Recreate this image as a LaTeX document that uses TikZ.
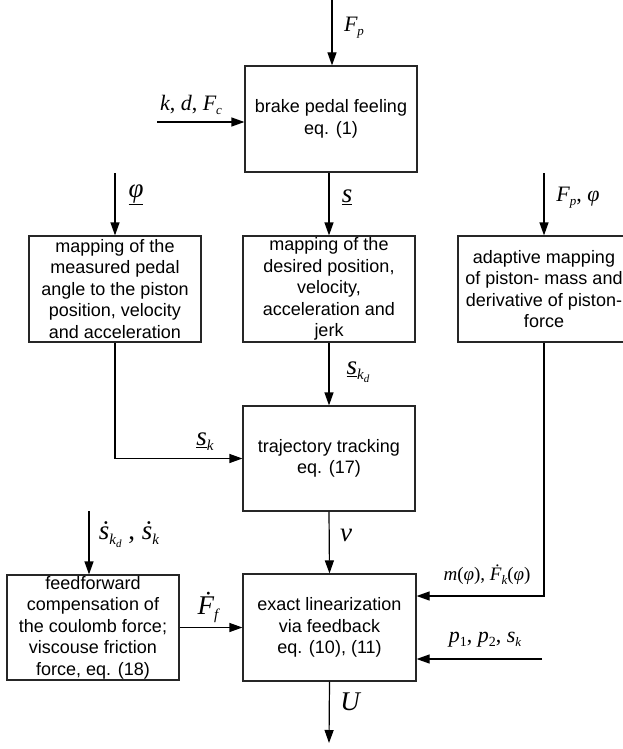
\documentclass[tikz,border=0pt]{standalone}
\usepackage{fontspec}
\setmainfont{Liberation Sans}
\newfontfamily\tms{Liberation Serif}
\usetikzlibrary{arrows.meta}

% italic serif symbols and lowered subscripts
\newcommand{\mi}[1]{{\tms\itshape #1}}
\newcommand{\sbs}[1]{\raisebox{-4pt}{\fontsize{13}{13}\selectfont\tms\itshape #1}}
\newcommand{\sbl}[1]{\raisebox{-5pt}{\fontsize{15}{15}\selectfont\tms\itshape #1}}
\newcommand{\ssbs}[1]{\raisebox{-3pt}{\fontsize{11}{11}\selectfont\tms\itshape #1}}
\newcommand{\sbn}[1]{\raisebox{-4pt}{\fontsize{14}{14}\selectfont\tms #1}}

\begin{document}
\begin{tikzpicture}[x=1pt,y=-1pt,
  block/.style={draw=black!85,line width=1.2pt,minimum width=172pt,minimum height=106pt,
    inner sep=0pt,align=center,font=\fontsize{18}{21.5}\selectfont},
  flow/.style={line width=1.2pt,-{Triangle[length=13pt,width=9pt]}},
  sym/.style={inner sep=0pt,font=\fontsize{22}{22}\selectfont\tms},
  symlg/.style={inner sep=0pt,font=\fontsize{27}{27}\selectfont\tms},
  symsm/.style={inner sep=0pt,font=\fontsize{19}{19}\selectfont\tms}]
\clip (0,0) rectangle (623,749);
\fill[white] (0,0) rectangle (623,749);

% blocks
\node[block] (brake) at (331,119) {brake pedal feeling\\eq. (1)};
\node[block] (mapL) at (115,289) {mapping of the\\measured pedal\\angle to the piston\\position, velocity\\and acceleration};
\node[block] (mapM) at (329,289) {mapping of the\\desired position,\\velocity,\\acceleration and\\jerk};
\node[block] (adapt) at (544,289) {adaptive mapping\\of piston- mass and\\derivative of piston-\\force};
\node[block,minimum height=105pt] (traj) at (329,458.5) {trajectory tracking\\eq. (17)};
\node[block,minimum height=105pt] (ff) at (93,627.5) {feedforward\\compensation of\\the coulomb force;\\viscouse friction\\force, eq. (18)};
\node[block,minimum width=173pt,minimum height=107pt] (lin) at (329.5,627.5) {exact linearization\\via feedback\\eq. (10), (11)};

% free ends of the inputs and the output
\coordinate (fpin) at (332,0);
\coordinate (kin) at (157,122);
\coordinate (phin) at (115,173);
\coordinate (adin) at (544,173);
\coordinate (sdin) at (89,511);
\coordinate (mrow) at (0,596);
\coordinate (pin) at (542,659);
\coordinate (uout) at (329,743);

% connectors
\draw[flow] (fpin) -- (fpin |- brake.north);
\draw[flow] (kin) -- (kin -| brake.west);
\draw[flow] (mapM.north |- brake.south) -- (mapM.north);
\draw[flow] (phin) -- (mapL.north);
\draw[flow] (adin) -- (adapt.north);
\draw[flow] (mapM.south) -- (traj.north);
\draw[flow] (mapL.south) |- (traj.west);
\draw[flow] (sdin) -- (sdin |- ff.north);
\draw[flow] (traj.south) -- (lin.north);
\draw[flow] (ff.east) -- (ff.east -| lin.west);
\draw[flow] (adapt.south) |- (lin.east |- mrow);
\draw[flow] (pin) -- (pin -| lin.east);
\draw[flow] (lin.south) -- (uout);

% signal labels
\node[sym] (lFp) at (354,28) {\mi{F}\sbs{p}};
\node[sym] (lkdf) at (191,105) {\mi{k}, \mi{d}, \mi{F}\sbs{c}};
\node[symlg] (lphi) at (136,195) {\underline{\mi{φ}}};
\node[symlg] (ls) at (347,197) {\underline{\mi{s}}};
\node[sym] (lFpphi) at (578,198) {\mi{F}\sbs{p}, \mi{φ}};
\node[symlg] (lskd) at (358,372) {\underline{\mi{s}}\raisebox{-5pt}{\fontsize{15}{15}\selectfont\tms\itshape k\ssbs{d}}};
\node[symlg] (lsk) at (205,442) {\underline{\mi{s}}\sbl{k}};
\node[symlg] (lsdot) at (129,535) {\mi{\.{s}}\raisebox{-5pt}{\fontsize{15}{15}\selectfont\tms\itshape k\ssbs{d}} , \mi{\.{s}}\sbl{k}};
\node[symlg] (lv) at (346,535) {\mi{v}};
\node[symlg] (lFf) at (208,607) {\mi{\.{F}}\sbl{f}};
\node[symsm] (lm) at (487,575) {\mi{m}(\mi{φ}), \mi{\.{F}}\sbs{k}(\mi{φ})};
\node[sym] (lp) at (485,640) {\mi{p}\sbn{1}, \mi{p}\sbn{2}, \mi{s}\sbs{k}};
\node[symlg] (lU) at (350,702) {\mi{U}};
\end{tikzpicture}
\end{document}
